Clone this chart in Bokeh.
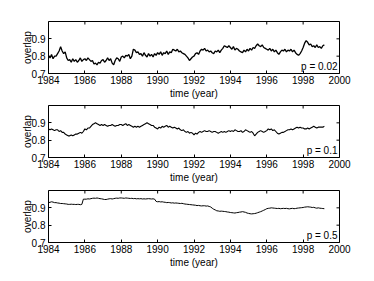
from bokeh.plotting import figure
from bokeh.models import Range1d, FixedTicker, Label
from bokeh.layouts import column
from bokeh.embed import file_html
from bokeh.resources import INLINE
import numpy as np

FONT = "Liberation Sans"

x_ticks = [1984, 1986, 1988, 1990, 1992, 1994, 1996, 1998, 2000]
y_ticks = [0.7, 0.8, 0.9]
x_lim = (1984, 2000)
y_lim = (0.7, 1.0)
start_year = 1984

# monthly samples starting Jan 1984
overlap_p002 = [
    0.805, 0.79, 0.81, 0.785, 0.80, 0.80, 0.815, 0.83, 0.855, 0.83, 0.815, 0.825,
    0.79, 0.775, 0.78, 0.765, 0.785, 0.77, 0.78, 0.765, 0.775, 0.79, 0.77, 0.78,
    0.785, 0.775, 0.79, 0.78, 0.77, 0.775, 0.755, 0.76, 0.75, 0.765, 0.76, 0.775,
    0.78, 0.765, 0.775, 0.79, 0.775, 0.785, 0.76, 0.75, 0.775, 0.79, 0.785, 0.77,
    0.795, 0.80, 0.79, 0.805, 0.80, 0.81, 0.785, 0.80, 0.84, 0.835, 0.82, 0.825,
    0.81, 0.815, 0.80, 0.82, 0.805, 0.795, 0.815, 0.80, 0.81, 0.795, 0.815, 0.805,
    0.82, 0.81, 0.825, 0.805, 0.82, 0.815, 0.83, 0.81, 0.825, 0.82, 0.84, 0.835,
    0.83, 0.84, 0.825, 0.83, 0.82, 0.815, 0.81, 0.80, 0.79, 0.775, 0.785, 0.795,
    0.80, 0.815, 0.82, 0.81, 0.83, 0.84, 0.835, 0.845, 0.83, 0.835, 0.825, 0.83,
    0.82, 0.815, 0.83, 0.825, 0.835, 0.82, 0.835, 0.845, 0.86, 0.855, 0.85, 0.86,
    0.85, 0.84, 0.855, 0.835, 0.845, 0.84, 0.83, 0.825, 0.82, 0.835, 0.825, 0.84,
    0.83, 0.845, 0.835, 0.85, 0.845, 0.86, 0.87, 0.86, 0.855, 0.865, 0.85, 0.845,
    0.84, 0.835, 0.845, 0.83, 0.84, 0.825, 0.835, 0.82, 0.81, 0.825, 0.835, 0.83,
    0.84, 0.825, 0.835, 0.83, 0.84, 0.825, 0.835, 0.82, 0.81, 0.805, 0.815, 0.83,
    0.85, 0.875, 0.89, 0.88, 0.865, 0.87, 0.855, 0.86, 0.85, 0.865, 0.85, 0.855,
    0.845, 0.86, 0.865,
]

overlap_p01 = [
    0.865, 0.86, 0.865, 0.86, 0.855, 0.86, 0.86, 0.85, 0.855, 0.845, 0.845, 0.835,
    0.83, 0.825, 0.825, 0.83, 0.825, 0.83, 0.835, 0.835, 0.84, 0.845, 0.84, 0.85,
    0.865, 0.86, 0.87, 0.87, 0.88, 0.89, 0.895, 0.90, 0.895, 0.89, 0.885, 0.89,
    0.885, 0.89, 0.885, 0.88, 0.885, 0.885, 0.89, 0.885, 0.88, 0.885, 0.885, 0.89,
    0.89, 0.885, 0.89, 0.895, 0.885, 0.89, 0.885, 0.88, 0.875, 0.88, 0.875, 0.88,
    0.875, 0.88, 0.885, 0.89, 0.895, 0.90, 0.895, 0.89, 0.885, 0.885, 0.875, 0.87,
    0.865, 0.875, 0.87, 0.88, 0.875, 0.88, 0.885, 0.875, 0.88, 0.875, 0.87, 0.875,
    0.87, 0.865, 0.87, 0.86, 0.855, 0.86, 0.85, 0.845, 0.85, 0.84, 0.845, 0.84,
    0.83, 0.84, 0.835, 0.845, 0.85, 0.845, 0.85, 0.855, 0.85, 0.85, 0.855, 0.85,
    0.845, 0.85, 0.85, 0.845, 0.84, 0.845, 0.85, 0.845, 0.85, 0.845, 0.85, 0.855,
    0.85, 0.855, 0.85, 0.86, 0.855, 0.85, 0.85, 0.855, 0.845, 0.85, 0.86, 0.855,
    0.85, 0.845, 0.85, 0.84, 0.825, 0.835, 0.845, 0.85, 0.855, 0.85, 0.845, 0.85,
    0.855, 0.865, 0.86, 0.865, 0.855, 0.86, 0.85, 0.84, 0.835, 0.84, 0.845, 0.845,
    0.85, 0.855, 0.86, 0.86, 0.865, 0.86, 0.865, 0.87, 0.875, 0.87, 0.875, 0.87,
    0.87, 0.865, 0.865, 0.87, 0.865, 0.87, 0.875, 0.88, 0.875, 0.87, 0.875, 0.875,
    0.875, 0.875, 0.88,
]

overlap_p05 = [
    0.93, 0.932, 0.935, 0.933, 0.93, 0.93, 0.928, 0.927, 0.925, 0.925, 0.924, 0.923,
    0.922, 0.92, 0.92, 0.921, 0.92, 0.92, 0.919, 0.92, 0.92, 0.918, 0.92, 0.95,
    0.95, 0.95, 0.952, 0.951, 0.953, 0.955, 0.956, 0.955, 0.957, 0.955, 0.953, 0.952,
    0.95, 0.948, 0.948, 0.95, 0.952, 0.953, 0.951, 0.953, 0.955, 0.956, 0.955, 0.957,
    0.957, 0.956, 0.955, 0.957, 0.956, 0.955, 0.954, 0.955, 0.953, 0.954, 0.952, 0.953,
    0.952, 0.953, 0.951, 0.952, 0.951, 0.952, 0.953, 0.952, 0.951, 0.952, 0.95, 0.937,
    0.935, 0.936, 0.934, 0.935, 0.933, 0.932, 0.93, 0.931, 0.93, 0.928, 0.929, 0.927,
    0.928, 0.927, 0.926, 0.925, 0.926, 0.924, 0.922, 0.921, 0.92, 0.919, 0.918, 0.917,
    0.916, 0.915, 0.913, 0.914, 0.912, 0.911, 0.912, 0.912, 0.91, 0.911, 0.908, 0.905,
    0.898, 0.892, 0.888, 0.883, 0.882, 0.88, 0.881, 0.88, 0.879, 0.878, 0.876, 0.875,
    0.873, 0.872, 0.871, 0.87, 0.872, 0.873, 0.875, 0.876, 0.878, 0.876, 0.874, 0.87,
    0.868, 0.866, 0.865, 0.866, 0.867, 0.869, 0.872, 0.875, 0.878, 0.882, 0.886, 0.89,
    0.895, 0.897, 0.898, 0.90, 0.899, 0.898, 0.897, 0.896, 0.897, 0.895, 0.896, 0.897,
    0.896, 0.897, 0.895, 0.894, 0.896, 0.897, 0.895, 0.896, 0.898, 0.899, 0.90, 0.901,
    0.902, 0.904, 0.905, 0.906, 0.905, 0.904, 0.902, 0.903, 0.90, 0.898, 0.90, 0.898,
    0.897, 0.896, 0.895,
]

p_labels = ["p = 0.02", "p = 0.1", "p = 0.5"]


def style_axis(ax):
    ax.major_tick_in = 3
    ax.major_tick_out = 0
    ax.minor_tick_in = 0
    ax.minor_tick_out = 0
    ax.axis_line_color = None
    ax.major_tick_line_color = "black"
    ax.major_label_text_font = FONT
    ax.major_label_text_color = "black"
    ax.major_label_text_font_size = "10px"
    ax.axis_label_text_font = FONT
    ax.axis_label_text_font_style = "normal"
    ax.axis_label_text_color = "black"
    ax.axis_label_text_font_size = "10px"


def panel(vals, ptext, top, lw):
    t = start_year + np.arange(len(vals)) / 12.0
    p = figure(frame_width=291, frame_height=52,
               x_range=Range1d(*x_lim), y_range=Range1d(*y_lim),
               output_backend="svg", toolbar_location=None,
               min_border_left=48, min_border_right=24,
               min_border_top=top, min_border_bottom=0,
               x_axis_label="time (year)", y_axis_label="overlap")
    p.grid.visible = False
    p.outline_line_color = "black"
    p.outline_line_width = 1
    p.background_fill_color = "white"
    p.border_fill_color = "white"

    p.xaxis.ticker = FixedTicker(ticks=x_ticks)
    p.yaxis.ticker = FixedTicker(ticks=y_ticks)
    for ax in p.xaxis + p.yaxis:
        style_axis(ax)
    p.xaxis.major_label_standoff = 2
    p.xaxis.axis_label_standoff = 1
    p.yaxis.major_label_standoff = 3
    p.yaxis.axis_label_standoff = -4

    # inward tick marks on the top and right edges of the box (clipped to frame)
    p.scatter(x_ticks, [y_lim[1]] * len(x_ticks), marker="dash", angle=np.pi / 2,
              size=6, line_color="black", line_width=1)
    p.scatter([x_lim[1]] * len(y_ticks), y_ticks, marker="dash",
              size=6, line_color="black", line_width=1)

    p.line(t, vals, line_color="black", line_width=lw)

    lab = Label(x=x_lim[1], y=y_lim[0], x_offset=-2, y_offset=2, text=ptext,
                text_align="right", text_baseline="bottom",
                text_font=FONT, text_font_size="10px", text_color="black")
    p.add_layout(lab)
    return p


p1 = panel(overlap_p002, p_labels[0], 21, 1.3)
p2 = panel(overlap_p01, p_labels[1], 4, 1.1)
p3 = panel(overlap_p05, p_labels[2], 5, 1.0)

layout = column(p1, p2, p3, spacing=0)
open("out.html", "w").write(file_html(layout, INLINE))
